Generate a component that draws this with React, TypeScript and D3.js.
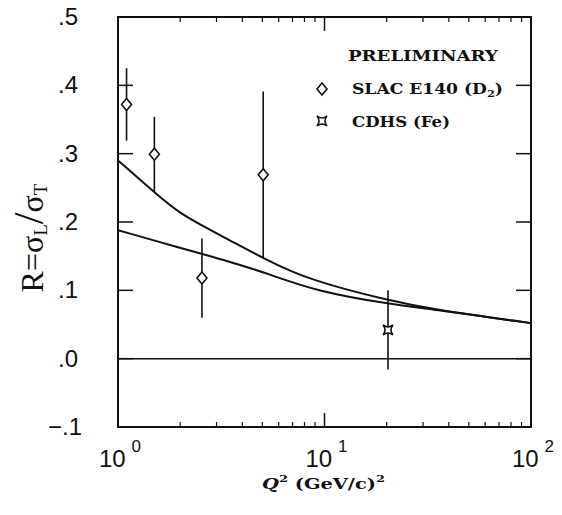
import React, { useRef, useEffect } from "react";
import * as d3 from "d3";

// SLAC E140 (D2) points
const slacQ2 = [1.1, 1.5, 2.55, 5.05];
const slacR = [0.372, 0.299, 0.118, 0.269];
const slacErr = [0.053, 0.055, 0.058, 0.122];

// CDHS (Fe) point
const cdhsQ2 = [20.3];
const cdhsR = [0.042];
const cdhsErr = [0.058];

// theory curves
const upperQ2 = [1.0, 1.51, 2.0, 3.5, 5.06, 8.2, 20.5, 33.5, 100];
const upperR = [0.29, 0.243, 0.211, 0.173, 0.147, 0.116, 0.085, 0.072, 0.052];
const lowerQ2 = [1.0, 2.0, 2.89, 3.9, 5.25, 9.17, 20.5, 33.5, 100];
const lowerR = [0.188, 0.162, 0.149, 0.137, 0.125, 0.0985, 0.08, 0.072, 0.052];

const yTicks = [-0.1, 0, 0.1, 0.2, 0.3, 0.4, 0.5];
const yTickLabels = ["\u2212.1", ".0", ".1", ".2", ".3", ".4", ".5"];
const xTicks = [1, 10, 100];
const xTickExp = ["0", "1", "2"];
const minorTicks = [2, 3, 4, 5, 6, 7, 8, 9, 20, 30, 40, 50, 60, 70, 80, 90];

const App = () => {
  const svgRef = useRef<SVGSVGElement>(null);

  useEffect(() => {
    const svg = d3.select(svgRef.current);
    svg.selectAll("*").remove();

    const width = 562;
    const height = 515;
    const margin = { top: 17, right: 31, bottom: 88, left: 118 };
    const x0 = margin.left, x1 = width - margin.right;
    const y0 = margin.top, y1 = height - margin.bottom;

    const x = d3.scaleLog().domain([1, 100]).range([x0, x1]);
    const y = d3.scaleLinear().domain([-0.1, 0.5]).range([y1, y0]);

    const ink = "#111";
    const sans = "'Liberation Sans', Arial, sans-serif";
    const serif = "'DejaVu Serif', 'Liberation Serif', serif";

    // frame
    svg.append("rect")
      .attr("x", x0).attr("y", y0)
      .attr("width", x1 - x0).attr("height", y1 - y0)
      .attr("fill", "none").attr("stroke", ink).attr("stroke-width", 2);

    // y ticks on both sides
    yTicks.slice(1, -1).forEach(t => {
      svg.append("line").attr("x1", x0).attr("x2", x0 + 15)
        .attr("y1", y(t)).attr("y2", y(t)).attr("stroke", ink).attr("stroke-width", 1.5);
      svg.append("line").attr("x1", x1).attr("x2", x1 - 15)
        .attr("y1", y(t)).attr("y2", y(t)).attr("stroke", ink).attr("stroke-width", 1.5);
    });

    // y tick labels
    svg.selectAll(".ylab")
      .data(yTicks)
      .enter()
      .append("text")
      .attr("class", "ylab")
      .attr("x", (d, i) => (i === 0 ? 82 : 78))
      .attr("y", d => y(d) + 8)
      .attr("text-anchor", "end")
      .attr("font-family", sans)
      .attr("font-size", 24)
      .attr("fill", ink)
      .text((d, i) => yTickLabels[i]);

    // x minor ticks top and bottom
    minorTicks.forEach(t => {
      svg.append("line").attr("x1", x(t)).attr("x2", x(t))
        .attr("y1", y1).attr("y2", y1 - 5).attr("stroke", ink).attr("stroke-width", 1.2);
      svg.append("line").attr("x1", x(t)).attr("x2", x(t))
        .attr("y1", y0).attr("y2", y0 + 5).attr("stroke", ink).attr("stroke-width", 1.2);
    });
    svg.append("line").attr("x1", x(10)).attr("x2", x(10))
      .attr("y1", y1).attr("y2", y1 - 14).attr("stroke", ink).attr("stroke-width", 1.5);
    svg.append("line").attr("x1", x(10)).attr("x2", x(10))
      .attr("y1", y0).attr("y2", y0 + 14).attr("stroke", ink).attr("stroke-width", 1.5);

    // x tick labels 10^n
    xTicks.forEach((t, i) => {
      const g = svg.append("text")
        .attr("x", x(t) + 2)
        .attr("y", 467)
        .attr("text-anchor", "middle")
        .attr("font-family", sans)
        .attr("font-size", 24)
        .attr("fill", ink);
      g.append("tspan").text("10");
      g.append("tspan").attr("dx", 6).attr("dy", -15).attr("font-size", 17).text(xTickExp[i]);
    });

    // zero line
    svg.append("line").attr("x1", x0).attr("x2", x1)
      .attr("y1", y(0)).attr("y2", y(0)).attr("stroke", ink).attr("stroke-width", 1.5);

    // curves
    const line = d3.line<[number, number]>()
      .x(d => x(d[0]))
      .y(d => y(d[1]))
      .curve(d3.curveBasis);
    [
      upperQ2.map((q, i) => [q, upperR[i]] as [number, number]),
      lowerQ2.map((q, i) => [q, lowerR[i]] as [number, number]),
    ].forEach(pts => {
      svg.append("path").attr("d", line(pts))
        .attr("fill", "none").attr("stroke", ink).attr("stroke-width", 2);
    });

    // error bars
    const errBars = [
      ...slacQ2.map((q, i) => [q, slacR[i], slacErr[i]]),
      ...cdhsQ2.map((q, i) => [q, cdhsR[i], cdhsErr[i]]),
    ];
    errBars.forEach(([q, r, e]) => {
      svg.append("line").attr("x1", x(q)).attr("x2", x(q))
        .attr("y1", y(r - e)).attr("y2", y(r + e))
        .attr("stroke", ink).attr("stroke-width", 1.6);
    });

    const diamond = (cx: number, cy: number) =>
      `M${cx},${cy - 6}L${cx + 5},${cy}L${cx},${cy + 6}L${cx - 5},${cy}Z`;
    const star = (cx: number, cy: number) => {
      const s = 5;
      return `M${cx - s},${cy - s}Q${cx},${cy - 1} ${cx + s},${cy - s}` +
        `Q${cx + 1},${cy} ${cx + s},${cy + s}` +
        `Q${cx},${cy + 1} ${cx - s},${cy + s}` +
        `Q${cx - 1},${cy} ${cx - s},${cy - s}Z`;
    };

    slacQ2.forEach((q, i) => {
      svg.append("path").attr("d", diamond(x(q), y(slacR[i])))
        .attr("fill", "white").attr("stroke", ink).attr("stroke-width", 1.6);
    });
    cdhsQ2.forEach((q, i) => {
      svg.append("path").attr("d", star(x(q), y(cdhsR[i])))
        .attr("fill", "white").attr("stroke", ink).attr("stroke-width", 1.6);
    });

    // legend
    svg.append("text").attr("x", 348).attr("y", 61)
      .attr("font-family", serif).attr("font-weight", "bold")
      .attr("font-size", 14).attr("fill", ink)
      .attr("textLength", 150).attr("lengthAdjust", "spacingAndGlyphs")
      .text("PRELIMINARY");
    svg.append("path").attr("d", diamond(322, 89))
      .attr("fill", "white").attr("stroke", ink).attr("stroke-width", 1.6);
    const l1 = svg.append("text").attr("x", 352).attr("y", 94)
      .attr("font-family", serif).attr("font-weight", "bold")
      .attr("font-size", 15).attr("fill", ink)
      .attr("textLength", 151).attr("lengthAdjust", "spacingAndGlyphs");
    l1.append("tspan").text("SLAC E140 (D");
    l1.append("tspan").attr("font-size", 10).attr("dy", 3).text("2");
    l1.append("tspan").attr("dy", -3).text(")");
    svg.append("path").attr("d", star(322, 121))
      .attr("fill", "white").attr("stroke", ink).attr("stroke-width", 1.6);
    svg.append("text").attr("x", 352).attr("y", 127)
      .attr("font-family", serif).attr("font-weight", "bold")
      .attr("font-size", 15).attr("fill", ink)
      .attr("textLength", 98).attr("lengthAdjust", "spacingAndGlyphs")
      .text("CDHS (Fe)");

    // axis titles
    const xt = svg.append("text").attr("x", 262).attr("y", 489)
      .attr("font-family", serif).attr("font-weight", "bold")
      .attr("font-size", 15).attr("fill", ink)
      .attr("textLength", 123).attr("lengthAdjust", "spacingAndGlyphs");
    xt.append("tspan").attr("font-style", "italic").text("Q");
    xt.append("tspan").attr("font-size", 10).attr("dy", -7).text("2");
    xt.append("tspan").attr("dy", 7).text(" (GeV/c)");
    xt.append("tspan").attr("font-size", 10).attr("dy", -7).text("2");

    const yt = svg.append("text")
      .attr("transform", `translate(43,238)rotate(-90)`)
      .attr("text-anchor", "middle")
      .attr("font-family", "'Liberation Serif', serif")
      .attr("font-size", 32).attr("fill", ink);
    yt.append("tspan").text("R=\u03C3");
    yt.append("tspan").attr("font-size", 19).attr("dy", 4).text("L");
    yt.append("tspan").attr("dy", -4).attr("font-size", 42).text("/");
    yt.append("tspan").text("\u03C3");
    yt.append("tspan").attr("font-size", 19).attr("dy", 4).text("T");
  }, []);

  return (
    <svg ref={svgRef} width={562} height={515}
      style={{ position: "absolute", left: 0, top: 0, background: "white" }} />
  );
};

export default App;
